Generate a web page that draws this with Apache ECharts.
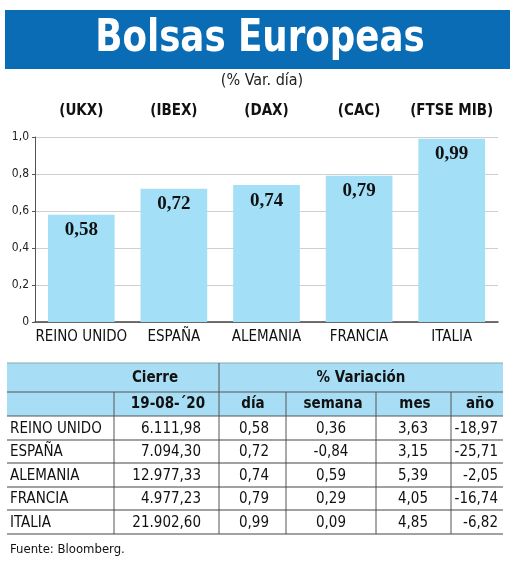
<!DOCTYPE html>
<html><head><meta charset="utf-8">
<script src="https://cdn.jsdelivr.net/npm/echarts@6/dist/echarts.min.js"></script>
<style>html,body{margin:0;padding:0;background:#fff}#c{width:520px;height:563px}</style>
</head><body><div id="c"></div>
<script>
var categories = ['REINO UNIDO','ESPAÑA','ALEMANIA','FRANCIA','ITALIA'];
var tickers = ['(UKX)','(IBEX)','(DAX)','(CAC)','(FTSE MIB)'];
var dayChange = [0.58, 0.72, 0.74, 0.79, 0.99];
var closeValues = [6111.98, 7094.30, 12977.33, 4977.23, 21902.60];
var weekChange = [0.36, -0.84, 0.59, 0.29, 0.09];
var monthChange = [3.63, 3.15, 5.39, 4.05, 4.85];
var yearChange = [-18.97, -25.71, -2.05, -16.74, -6.82];
var closeDate = '19-08-´20';

var FONT = '"Liberation Sans Narrow","DejaVu Sans Condensed","Open Sans",sans-serif';
function fmt(v, thousands) {
  var s = Math.abs(v).toFixed(2).split('.');
  var ip = s[0];
  if (thousands) ip = ip.replace(/\B(?=(\d{3})+(?!\d))/g, '.');
  return (v < 0 ? '-' : '') + ip + ',' + s[1];
}

var g = [];
// banner
g.push({type:'rect', shape:{x:5,y:10,width:505,height:59}, style:{fill:'#0a6cb4'}, silent:true});
g.push({type:'text', x:260, y:40, scaleX:0.9, style:{text:'Bolsas Europeas', fill:'#fff', font:'bold 44px ' + FONT, align:'center', verticalAlign:'middle'}});
g.push({type:'text', x:262, y:81, style:{text:'(% Var. día)', fill:'#222', font:'16px ' + FONT, align:'center', verticalAlign:'middle'}});

// table
var L = 7, R = 503;
var hTop = 363, hMid = 392, hBot = 416;
var rowY = [416, 440, 463, 487, 510, 534];
var vx = [114, 219, 286, 376, 451];
var lineC = '#555';
g.push({type:'rect', shape:{x:L,y:hTop,width:R-L,height:hBot-hTop}, style:{fill:'#a8def5'}});
g.push({type:'line', shape:{x1:L,y1:hTop,x2:R,y2:hTop}, style:{stroke:'#8aa',lineWidth:1}});
g.push({type:'line', shape:{x1:L,y1:hMid,x2:R,y2:hMid}, style:{stroke:lineC,lineWidth:1}});
g.push({type:'line', shape:{x1:L,y1:hBot,x2:R,y2:hBot}, style:{stroke:lineC,lineWidth:1.2}});
g.push({type:'line', shape:{x1:219,y1:hTop,x2:219,y2:hMid}, style:{stroke:lineC,lineWidth:1}});
vx.forEach(function(x){
  g.push({type:'line', shape:{x1:x,y1:hMid,x2:x,y2:rowY[5]}, style:{stroke:lineC,lineWidth:1}});
});
for (var i = 1; i < rowY.length; i++) {
  g.push({type:'line', shape:{x1:L,y1:rowY[i],x2:R,y2:rowY[i]}, style:{stroke:'#444',lineWidth:1}});
}
function txt(t, x, y, align, bold, size) {
  g.push({type:'text', x:x, y:y, style:{text:t, fill:'#111', font:(bold?'bold ':'') + (size||15) + 'px ' + FONT, align:align, verticalAlign:'middle'}});
}
txt('Cierre', 155, 378, 'center', true, 15);
txt('% Variación', 361, 378, 'center', true, 15);
txt(closeDate, 168, 404, 'center', true, 15);
txt('día', 253, 404, 'center', true, 15);
txt('semana', 333, 404, 'center', true, 15);
txt('mes', 415, 404, 'center', true, 15);
txt('año', 480, 404, 'center', true, 15);
for (var r = 0; r < categories.length; r++) {
  var cy = (rowY[r] + rowY[r+1]) / 2 + 1;
  txt(categories[r], 10, cy, 'left');
  txt(fmt(closeValues[r], true), 201, cy, 'right');
  txt(fmt(dayChange[r]), 254, cy, 'center');
  txt(fmt(weekChange[r]), 331, cy, 'center');
  txt(fmt(monthChange[r]), 413, cy, 'center');
  txt(fmt(yearChange[r]), 498, cy, 'right');
}
g.push({type:'text', x:10, y:550, style:{text:'Fuente: Bloomberg.', fill:'#111', font:'13px ' + FONT, align:'left', verticalAlign:'middle'}});

var chart = echarts.init(document.getElementById('c'), null, {renderer:'canvas'});
chart.setOption({
  animation:false,
  grid:{left:35, right:22, top:137, bottom:241},
  xAxis:[{
    type:'category', data:categories, position:'bottom',
    axisLine:{lineStyle:{color:'#444', width:1.5}}, axisTick:{show:false},
    axisLabel:{color:'#111', fontSize:15, fontFamily:FONT, margin:8, interval:0}
  },{
    type:'category', data:tickers, position:'top',
    axisLine:{show:false}, axisTick:{show:false},
    axisLabel:{color:'#111', fontSize:15, fontWeight:'bold', fontFamily:FONT, margin:18, interval:0}
  }],
  yAxis:{
    type:'value', min:0, max:1, interval:0.2,
    axisLine:{show:true, lineStyle:{color:'#555'}},
    axisTick:{show:true, length:3, lineStyle:{color:'#555'}},
    splitLine:{lineStyle:{color:'#cfcfcf', width:1}},
    axisLabel:{color:'#222', fontSize:12, fontFamily:FONT, margin:6,
      formatter:function(v){ return v === 0 ? '0' : v.toFixed(1).replace('.', ','); }}
  },
  series:[{
    type:'bar', data:dayChange, xAxisIndex:0, barWidth:'72%',
    itemStyle:{color:'#a3e0f7'},
    label:{show:true, position:'insideTop', distance:6, color:'#111',
      fontSize:19, fontWeight:'bold', fontFamily:'"Liberation Serif","DejaVu Serif",serif',
      formatter:function(p){ return p.value.toFixed(2).replace('.', ','); }}
  }],
  graphic:g
});
</script></body></html>
